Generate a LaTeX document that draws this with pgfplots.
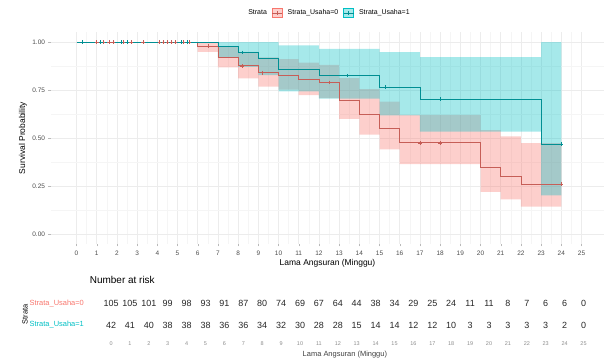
\documentclass[border=0pt]{standalone}
\usepackage{fontspec}
\setmainfont{Liberation Sans}
\usepackage{pgfplots}
\pgfplotsset{compat=1.18}
\definecolor{ggred}{HTML}{F8766D}
\definecolor{ggteal}{HTML}{00BFC4}
\colorlet{linered}{ggred!80!black}
\colorlet{lineteal}{ggteal!75!black}
\begin{document}
\begin{tikzpicture}
\path[use as bounding box] (0,0) rectangle (605bp,-361bp);
% ---------------- main survival plot
\begin{axis}[
  at={(51.25bp,-32.4bp)}, anchor=north west,
  scale only axis, width=552.5bp, height=211.2bp,
  xmin=-1.25, xmax=26.1, ymin=-0.05, ymax=1.05,
  xtick={0,...,25}, minor x tick num=1,
  ytick={0,0.25,0.5,0.75,1}, minor y tick num=1,
  yticklabels={0.00,0.25,0.50,0.75,1.00},
  /pgf/number format/assume math mode=true,
  grid=both,
  major grid style={gray!15, line width=0.5bp},
  minor grid style={gray!8, line width=0.35bp},
  axis line style={draw=none},
  xtick pos=bottom, ytick pos=left,
  tick align=outside, major tick length=2.75bp, minor tick length=0pt,
  major tick style={gray!55, line width=0.4bp},
  ticklabel style={font=\fontsize{6.5}{7}\selectfont, text=black!70},
  xticklabel style={yshift=-1.2bp},
  xlabel={Lama Angsuran (Minggu)}, ylabel={Survival Probability},
  label style={font=\fontsize{8.5}{10}\selectfont},
  xlabel style={at={(axis description cs:0.5,0)}, anchor=center, yshift=-19.8bp},
  ylabel style={at={(axis description cs:0,0.5)}, anchor=center, yshift=28.25bp},
  legend columns=3,
  legend style={at={(0.5,1.092)}, anchor=center, draw=none, fill=none,
    font=\fontsize{7}{8}\selectfont, column sep=3bp, inner sep=0pt},
  legend cell align=left,
]
% confidence band, red
\addplot[fill=ggred, fill opacity=0.35, draw=none, forget plot] coordinates {
(0,1)(7,1)(7,0.979)(8,0.979)(8,0.948)(9,0.948)(9,0.920)(10,0.920)(10,0.911)(11,0.911)(11,0.892)(12,0.892)(12,0.881)(13,0.881)(13,0.8125)(14,0.8125)(14,0.754)(15,0.754)(15,0.689)(16,0.689)(16,0.620)(20,0.620)(20,0.541)(21,0.541)(21,0.508)(22,0.508)(22,0.473)(24,0.473)
(24,0.142)(22,0.142)(22,0.180)(21,0.180)(21,0.220)(20,0.220)(20,0.364)(16,0.364)(16,0.441)(15,0.441)(15,0.518)(14,0.518)(14,0.600)(13,0.600)(13,0.708)(12,0.708)(12,0.723)(11,0.723)(11,0.752)(10,0.752)(10,0.767)(9,0.767)(9,0.810)(8,0.810)(8,0.868)(7,0.868)(7,0.948)(6,0.948)(6,1)(0,1)} -- cycle;
% confidence band, teal
\addplot[fill=ggteal, fill opacity=0.35, draw=none, forget plot] coordinates {
(0,1)(10,1)(10,0.982)(12,0.982)(12,0.964)(15,0.964)(15,0.947)(17,0.947)(17,0.921)(23,0.921)(23,1)(24,1)
(24,0.201)(23,0.201)(23,0.533)(17,0.533)(17,0.618)(15,0.618)(15,0.705)(12,0.705)(12,0.743)(10,0.743)(10,0.827)(9,0.827)(9,0.871)(8,0.871)(8,0.920)(7,0.920)(7,1)(0,1)} -- cycle;
% survival curves
\addplot[const plot, linered, line width=0.8bp, forget plot] coordinates {
(0,1)(6,0.978)(7,0.922)(8,0.876)(9,0.840)(10,0.828)(11,0.803)(12,0.79)(13,0.698)(14,0.625)(15,0.551)(16,0.475)(20,0.345)(21,0.302)(22,0.259)(24,0.259)};
\addplot[const plot, lineteal, line width=0.8bp, forget plot] coordinates {
(0,1)(7,0.975)(8,0.946)(9,0.916)(10,0.855)(12,0.825)(15,0.766)(17,0.702)(23,0.468)(24,0.468)};
% censor marks
\addplot[only marks, mark=+, mark size=1.8bp, linered, line width=0.5bp, forget plot] coordinates {
(1.0,1)(1.3,1)(1.6,1)(1.8,1)(2.3,1)(2.7,1)(3.3,1)(4.1,1)(4.3,1)(4.5,1)(4.7,1)(4.9,1)(5.3,1)(5.6,1)
(6.5,0.978)(8.2,0.876)(9.2,0.840)(12.5,0.79)(17,0.475)(18,0.475)(24,0.259)};
\addplot[only marks, mark=+, mark size=1.8bp, lineteal, line width=0.5bp, forget plot] coordinates {
(0.3,1)(1.2,1)(2.2,1)(2.5,1)(5.2,1)(5.5,1)(8.2,0.946)(13.4,0.825)(15.3,0.766)(18,0.702)(24,0.468)};
% legend
\addlegendimage{empty legend}
\addlegendentry{Strata}
\addlegendimage{legend image code/.code={
  \fill[ggred, fill opacity=0.35] (0bp,-4.5bp) rectangle (10bp,4.5bp);
  \draw[linered, line width=0.8bp] (0bp,0bp) -- (10bp,0bp);
  \draw[linered, line width=0.5bp] (5bp,-1.8bp) -- (5bp,1.8bp);}}
\addlegendentry{Strata\_Usaha=0}
\addlegendimage{legend image code/.code={
  \fill[ggteal, fill opacity=0.35] (0bp,-4.5bp) rectangle (10bp,4.5bp);
  \draw[lineteal, line width=0.8bp] (0bp,0bp) -- (10bp,0bp);
  \draw[lineteal, line width=0.5bp] (5bp,-1.8bp) -- (5bp,1.8bp);}}
\addlegendentry{Strata\_Usaha=1}
\end{axis}
% ---------------- risk table
\begin{axis}[
  at={(87.4bp,-290.6bp)}, anchor=north west,
  scale only axis, width=515bp, height=47.3bp,
  xmin=-1.25, xmax=26.0, ymin=0.4, ymax=2.6,
  xtick={0,...,25}, ytick={1,2},
  yticklabels={\textcolor{ggteal}{Strata\_Usaha=1},\textcolor{ggred}{Strata\_Usaha=0}},
  /pgf/number format/assume math mode=true,
  axis line style={draw=none}, major tick length=0pt,
  xticklabel style={font=\fontsize{5.5}{6}\selectfont, text=black!45},
  yticklabel style={font=\fontsize{7.5}{8}\selectfont},
  xlabel={Lama Angsuran (Minggu)}, ylabel={Strata},
  label style={font=\fontsize{7.5}{9}\selectfont},
  xlabel style={at={(axis description cs:0.5,0)}, anchor=center, yshift=-17bp, text=black!75},
  ylabel style={at={(axis description cs:0,0.5)}, anchor=center, yshift=62.4bp},
  title={Number at risk},
  title style={at={(axis description cs:0,1)}, anchor=base west, yshift=1bp, xshift=-1bp, font=\fontsize{10}{12}\selectfont},
]
\addplot[draw=none, nodes near coords, point meta=explicit symbolic,
  every node near coord/.append style={anchor=center, font=\fontsize{9}{10}\selectfont, text=black!85}]
  table[meta=n] {
x y n
0 2 105
1 2 105
2 2 101
3 2 99
4 2 98
5 2 93
6 2 91
7 2 87
8 2 80
9 2 74
10 2 69
11 2 67
12 2 64
13 2 44
14 2 38
15 2 34
16 2 29
17 2 25
18 2 24
19 2 11
20 2 11
21 2 8
22 2 7
23 2 6
24 2 6
25 2 0
};
\addplot[draw=none, nodes near coords, point meta=explicit symbolic,
  every node near coord/.append style={anchor=center, font=\fontsize{9}{10}\selectfont, text=black!85}]
  table[meta=n] {
x y n
0 1 42
1 1 41
2 1 40
3 1 38
4 1 38
5 1 38
6 1 36
7 1 36
8 1 34
9 1 32
10 1 30
11 1 28
12 1 28
13 1 15
14 1 14
15 1 14
16 1 12
17 1 12
18 1 10
19 1 3
20 1 3
21 1 3
22 1 3
23 1 3
24 1 2
25 1 0
};
\end{axis}
\end{tikzpicture}
\end{document}
